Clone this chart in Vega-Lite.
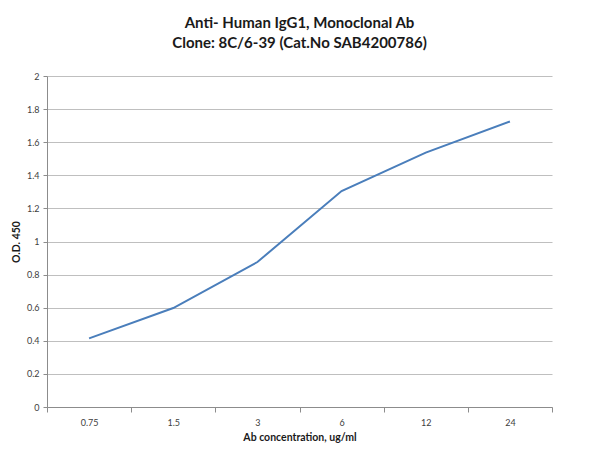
{
  "$schema": "https://vega.github.io/schema/vega-lite/v6.json",
  "autosize": {"type": "none"},
  "width": 505,
  "height": 331,
  "padding": {"left": 47, "top": 76, "right": 44, "bottom": 43},
  "background": "white",
  "title": {
    "text": ["Anti- Human IgG1, Monoclonal Ab", "Clone: 8C/6-39 (Cat.No SAB4200786)"],
    "font": "Lato",
    "fontSize": 15,
    "fontWeight": "bold",
    "color": "#1a1a1a",
    "lineHeight": 20,
    "anchor": "middle",
    "offset": 21
  },
  "data": {
    "values": [
      {"conc": "0.75", "od": 0.415},
      {"conc": "1.5", "od": 0.598},
      {"conc": "3", "od": 0.876},
      {"conc": "6", "od": 1.305},
      {"conc": "12", "od": 1.537},
      {"conc": "24", "od": 1.725}
    ]
  },
  "mark": {"type": "line", "color": "#4a7ebb", "strokeWidth": 2},
  "encoding": {
    "x": {
      "field": "conc",
      "type": "ordinal",
      "sort": null,
      "scale": {"type": "band", "paddingInner": 0, "paddingOuter": 0},
      "axis": {
        "title": "Ab concentration, ug/ml",
        "labelAngle": 0,
        "tickBand": "extent",
        "grid": false,
        "domainColor": "#8c8c8c",
        "tickColor": "#8c8c8c",
        "tickSize": 5,
        "labelFont": "Lato",
        "labelFontSize": 9,
        "labelColor": "#404040",
        "labelPadding": 6,
        "titleFont": "Lato",
        "titleFontSize": 10.5,
        "titleFontWeight": "bold",
        "titleColor": "#1a1a1a",
        "titlePadding": 5
      }
    },
    "y": {
      "field": "od",
      "type": "quantitative",
      "scale": {"domain": [0, 2], "nice": false},
      "axis": {
        "title": "O.D. 450",
        "values": [0, 0.2, 0.4, 0.6, 0.8, 1, 1.2, 1.4, 1.6, 1.8, 2],
        "format": "~g",
        "grid": true,
        "gridColor": "#bfbfbf",
        "gridWidth": 1,
        "domainColor": "#8c8c8c",
        "tickColor": "#8c8c8c",
        "tickSize": 4,
        "labelFont": "Lato",
        "labelFontSize": 9,
        "labelColor": "#404040",
        "labelPadding": 4,
        "titleFont": "Lato",
        "titleFontSize": 10.5,
        "titleFontWeight": "bold",
        "titleColor": "#1a1a1a",
        "titlePadding": 5
      }
    }
  },
  "config": {"view": {"stroke": null}}
}
